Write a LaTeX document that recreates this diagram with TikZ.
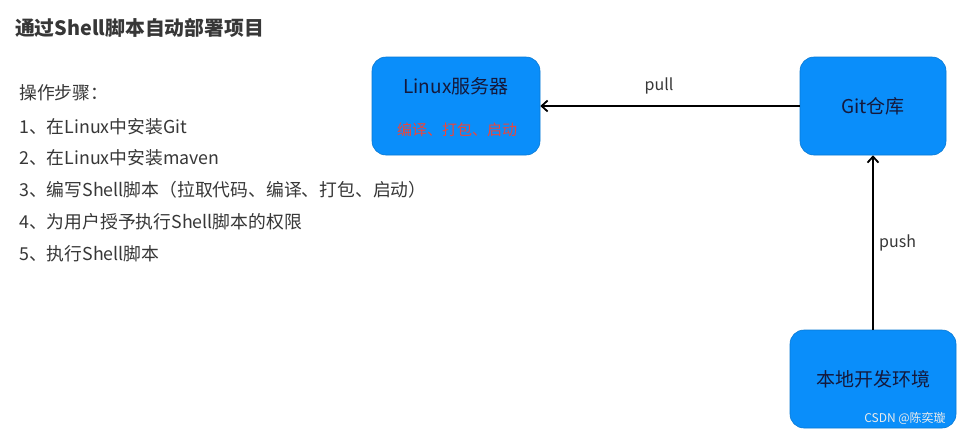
\documentclass[tikz,border=0pt]{standalone}
\usepackage{fontspec}
\setmainfont{Noto Sans CJK SC}
\usetikzlibrary{arrows.meta}
\definecolor{boxblue}{RGB}{10,142,250}
\definecolor{navy}{RGB}{20,25,60}
\definecolor{txt}{RGB}{55,55,55}
\definecolor{redtxt}{RGB}{235,70,60}
\tikzset{
  bluebox/.style={fill=boxblue, draw=boxblue!85!black, line width=0.6pt, rounded corners=14pt, inner sep=0pt},
  boxlabel/.style={text=navy, font=\fontsize{19}{22}\selectfont},
  steptext/.style={anchor=west, text=txt, font=\fontsize{17.8}{21}\selectfont, inner sep=0pt},
  conn/.style={line width=1.8pt, draw=black, -{Straight Barb[length=6pt,width=11pt]}},
  edgelabel/.style={text=txt, font=\fontsize{16}{19}\selectfont}
}
\begin{document}
\begin{tikzpicture}[x=1pt,y=-1pt]
\useasboundingbox (0,0) rectangle (972,437);
\fill[white] (0,0) rectangle (972,437);
% title
\node[anchor=west, inner sep=0pt, text=txt, font=\fontsize{19.8}{23}\selectfont\bfseries] (title) at (15,28) {通过Shell脚本自动部署项目};
% steps
\node[steptext] (s0) at (19,93) {操作步骤：};
\node[steptext] (s1) at (19,127) {1、在Linux中安装Git};
\node[steptext] (s2) at (19,158) {2、在Linux中安装maven};
\node[steptext] (s3) at (19,190) {3、编写Shell脚本（拉取代码、编译、打包、启动）};
\node[steptext] (s4) at (19,222) {4、为用户授予执行Shell脚本的权限};
\node[steptext] (s5) at (19,254) {5、执行Shell脚本};
% boxes
\node[bluebox, minimum width=168pt, minimum height=98pt] (linux) at (456,106) {};
\node[boxlabel] (linuxl) at (456,86) {Linux服务器};
\node[text=redtxt, font=\fontsize{15}{17}\selectfont] (linuxs) at (457,130) {编译、打包、启动};
\node[bluebox, minimum width=146pt, minimum height=98pt, boxlabel] (git) at (873,106) {Git仓库};
\node[bluebox, minimum width=166pt, minimum height=98pt, boxlabel] (local) at (873,379) {本地开发环境};
% connectors
\draw[conn] (git.west) -- (linux.east);
\node[edgelabel] (pull) at (659,86) {pull};
\draw[conn] (local.north) -- node[edgelabel, right=2pt] (push) {push} (git.south);
% watermark
\node[text=white!92!black, font=\fontsize{12}{14}\selectfont] (wm) at (905,418) {CSDN @陈奕璇};
\end{tikzpicture}
\end{document}
